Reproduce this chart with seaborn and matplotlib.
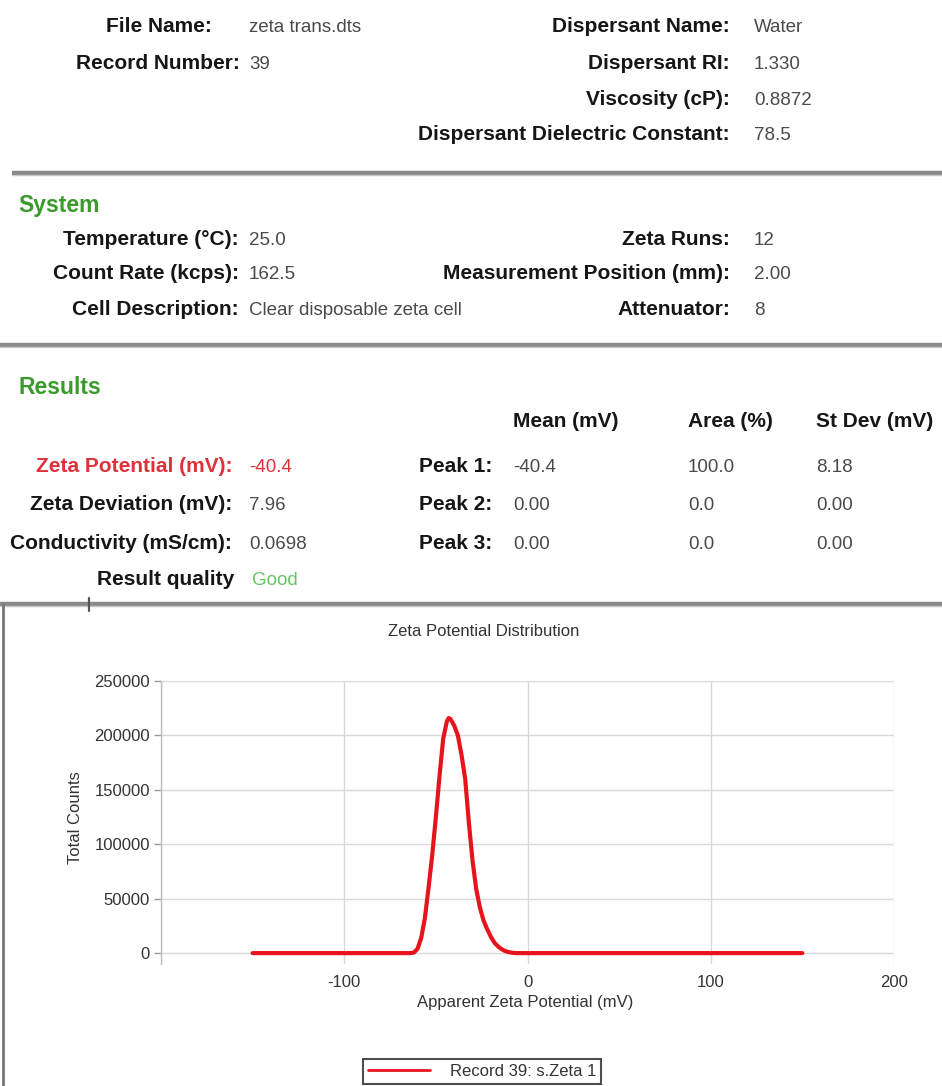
import matplotlib
matplotlib.use("Agg")
import matplotlib.pyplot as plt
from matplotlib.lines import Line2D
import seaborn as sns
import pandas as pd

# ---------------- data ----------------
header_left_labels = ["File Name:", "Record Number:"]
header_left_values = ["zeta trans.dts", "39"]
header_right_labels = ["Dispersant Name:", "Dispersant RI:", "Viscosity (cP):",
                       "Dispersant Dielectric Constant:"]
header_right_values = ["Water", "1.330", "0.8872", "78.5"]

system_left_labels = ["Temperature (°C):", "Count Rate (kcps):", "Cell Description:"]
system_left_values = ["25.0", "162.5", "Clear disposable zeta cell"]
system_right_labels = ["Zeta Runs:", "Measurement Position (mm):", "Attenuator:"]
system_right_values = ["12", "2.00", "8"]

results_labels = ["Zeta Potential (mV):", "Zeta Deviation (mV):",
                  "Conductivity (mS/cm):", "Result quality"]
results_values = ["-40.4", "7.96", "0.0698", "Good"]

peak_labels = ["Peak 1:", "Peak 2:", "Peak 3:"]
peak_columns = ["Mean (mV)", "Area (%)", "St Dev (mV)"]
peak_mean = ["-40.4", "0.00", "0.00"]
peak_area = ["100.0", "0.0", "0.0"]
peak_stdev = ["8.18", "0.00", "0.00"]

zeta_mv = [-150, -100, -64, -62, -60, -58, -56, -54, -52, -50, -48, -46, -44,
           -43, -42, -40, -38, -36, -34, -32, -30, -28, -26, -24, -22, -20,
           -18, -16, -14, -12, -10, -8, -6, 0, 50, 100, 150]
total_counts = [0, 0, 0, 500, 4000, 14000, 32000, 60000, 90000, 125000, 163000,
                197000, 213000, 216000, 215000, 209000, 200000, 182000, 160000,
                120000, 85000, 59000, 42000, 30000, 22000, 15000, 9500, 6000,
                3500, 1800, 800, 250, 0, 0, 0, 0, 0]

x_ticks = [-200, -100, 0, 100, 200]
x_tick_labels = ["", "-100", "0", "100", "200"]
y_ticks = [0, 50000, 100000, 150000, 200000, 250000]
y_tick_labels = ["0", "50000", "100000", "150000", "200000", "250000"]

chart_title = "Zeta Potential Distribution"
x_label = "Apparent Zeta Potential (mV)"
y_label = "Total Counts"
series_name = "Record 39: s.Zeta 1"

# ---------------- style ----------------
sns.set_theme(style="white")
plt.rcParams["font.family"] = ["Liberation Sans", "DejaVu Sans"]
plt.rcParams["axes.unicode_minus"] = False

W, H = 942, 1086
fig = plt.figure(figsize=(W / 100, H / 100), dpi=100)
fig.patch.set_facecolor("white")


def fx(px):
    return px / W


def fy(py):
    return 1 - py / H


LABEL_C = "#161616"
VALUE_C = "#4a4a4a"
GREEN_H = "#3a9a2c"
RED = "#e0303a"
GOOD = "#66c466"
LFS = 15
VFS = 13.5
BASE = 7  # px from row centre down to text baseline


def label(x, y, s, color=LABEL_C, ha="right", size=LFS):
    fig.text(fx(x), fy(y + BASE), s, ha=ha, va="baseline", fontsize=size,
             fontweight="bold", color=color)


def value(x, y, s, color=VALUE_C, size=VFS):
    fig.text(fx(x), fy(y + BASE), s, ha="left", va="baseline", fontsize=size,
             color=color)


# header block
left_rows_y = [25, 62]
left_rows_x = [212, 240]
for s, v, y, x in zip(header_left_labels, header_left_values, left_rows_y, left_rows_x):
    label(x, y, s)
    value(249, y, v)
right_rows_y = [25, 62, 98, 133]
for s, v, y in zip(header_right_labels, header_right_values, right_rows_y):
    label(730, y, s)
    value(754, y, v)


def separator(y, x0):
    fig.add_artist(Line2D([fx(x0), 1.0], [fy(y), fy(y)], color="#8a8a8a",
                          lw=3.2, solid_capstyle="butt"))
    fig.add_artist(Line2D([fx(x0), 1.0], [fy(y + 2), fy(y + 2)],
                          color="#c8c8c8", lw=1.0, solid_capstyle="butt"))


separator(173, 12)

# system block
label(18, 205, "System", color=GREEN_H, ha="left", size=16.5)
sys_y = [238, 272, 308]
for s, v, y in zip(system_left_labels, system_left_values, sys_y):
    label(239, y, s)
    value(249, y, v)
for s, v, y in zip(system_right_labels, system_right_values, sys_y):
    label(730, y, s)
    value(754, y, v)

separator(345, 0)

# results block
label(18, 387, "Results", color=GREEN_H, ha="left", size=16.5)
col_x = [513, 688, 816]
for s, x in zip(peak_columns, col_x):
    label(x, 420, s, ha="left")
res_y = [465, 503, 542, 578]
for i, (s, v, y) in enumerate(zip(results_labels, results_values, res_y)):
    if i == 0:
        label(232, y, s, color=RED)
        value(249, y, v, color=RED)
    elif i == 3:
        label(234, y, s)
        value(252, y, v, color=GOOD)
    else:
        label(232, y, s)
        value(249, y, v)
for s, m, a, sd, y in zip(peak_labels, peak_mean, peak_area, peak_stdev, res_y):
    label(492, y, s)
    value(col_x[0], y, m)
    value(col_x[1], y, a)
    value(col_x[2], y, sd)

separator(604, 0)
# small marker on separator and chart frame
fig.add_artist(Line2D([fx(89), fx(89)], [fy(598), fy(611)], color="#555555", lw=1.6))
fig.add_artist(Line2D([fx(3), fx(3)], [fy(604), 0], color="#777777", lw=2.0))

# ---------------- chart ----------------
ax_left, ax_right, ax_top, ax_bottom = 161, 894, 681, 964
ax = fig.add_axes([fx(ax_left), fy(ax_bottom), (ax_right - ax_left) / W,
                   (ax_bottom - ax_top) / H])
df = pd.DataFrame({"zeta": zeta_mv, "counts": total_counts})
sns.lineplot(data=df, x="zeta", y="counts", ax=ax, color="#e8141c",
             linewidth=3.0, label=series_name, sort=False)
ax.set_xlim(-200, 200)
ax.set_ylim(-10000, 250000)
ax.set_xticks(x_ticks)
ax.set_xticklabels(x_tick_labels)
ax.set_yticks(y_ticks)
ax.set_yticklabels(y_tick_labels)
ax.grid(True, color="#d9d9d9", lw=1.0)
ax.set_axisbelow(True)
for side in ["top", "right", "bottom"]:
    ax.spines[side].set_visible(False)
ax.spines["left"].set_color("#bdbdbd")
ax.spines["left"].set_linewidth(1.0)
ax.tick_params(axis="y", length=5, width=1, color="#9a9a9a", pad=3,
               labelsize=12, labelcolor="#333333", left=True)
ax.tick_params(axis="x", length=0, pad=8, labelsize=12, labelcolor="#333333")
ax.set_xlabel("")
ax.set_ylabel("")
ax.legend_.remove()

fig.text(fx(484), fy(631), chart_title, ha="center", va="center",
         fontsize=12, color="#333333")
fig.text(fx(525), fy(1003), x_label, ha="center", va="center",
         fontsize=12, color="#333333")
fig.text(fx(76), fy(818), y_label, ha="center", va="center", rotation=90,
         fontsize=12, color="#333333")

handles, labels_ = ax.get_legend_handles_labels()
leg = fig.legend(handles, labels_, loc="center",
                 bbox_to_anchor=(fx(482), fy(1071)), bbox_transform=fig.transFigure,
                 fontsize=12, frameon=True, fancybox=False, handlelength=3.7,
                 handletextpad=1.2, borderpad=0.3, labelcolor="#333333")
leg.get_frame().set_edgecolor("#222222")
leg.get_frame().set_linewidth(1.5)
for ln in leg.get_lines():
    ln.set_linewidth(2.0)

fig.savefig("out.png", dpi=100, facecolor="white")
